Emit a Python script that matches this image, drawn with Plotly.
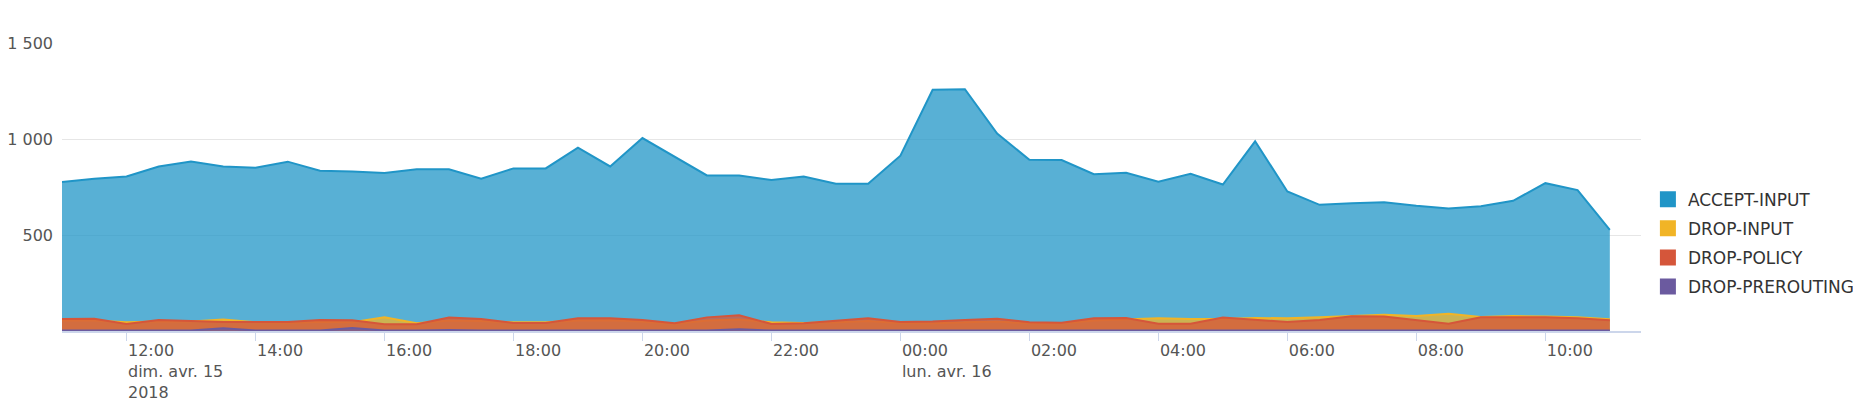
import plotly.graph_objects as go
import pandas as pd

times = pd.date_range("2018-04-15 11:00", periods=49, freq="30min")

accept_input = [776, 793, 805, 857, 883, 857, 850, 882, 835, 831, 823, 842, 842,
                793, 847, 847, 955, 857, 1005, 909, 810, 810, 786, 805, 767, 767,
                913, 1256, 1259, 1028, 892, 890, 817, 824, 777, 819, 763, 988, 727,
                657, 666, 671, 652, 638, 650, 678, 770, 734, 527]
drop_input = [55, 55, 45, 50, 50, 60, 45, 42, 48, 45, 71, 40, 55,
              52, 45, 45, 55, 56, 50, 38, 55, 60, 45, 42, 45, 52,
              42, 40, 46, 50, 40, 40, 55, 60, 66, 63, 62, 68, 66,
              71, 77, 84, 78, 90, 73, 78, 75, 71, 61]
drop_policy = [63, 64, 37, 57, 52, 47, 47, 47, 57, 56, 35, 35, 70,
               63, 42, 42, 66, 66, 57, 40, 71, 82, 37, 40, 54, 66,
               47, 49, 57, 64, 45, 43, 66, 68, 38, 38, 70, 57, 47,
               57, 77, 75, 57, 38, 71, 71, 71, 66, 56]
drop_prerouting = [2, 2, 2, 2, 3, 14, 3, 2, 2, 16, 2, 2, 5,
                   2, 2, 2, 2, 2, 2, 2, 2, 9, 2, 2, 2, 2,
                   2, 2, 2, 2, 2, 2, 2, 2, 2, 2, 2, 2, 2,
                   2, 2, 2, 2, 4, 2, 2, 2, 2, 2]

series_names = ["ACCEPT-INPUT", "DROP-INPUT", "DROP-POLICY", "DROP-PREROUTING"]
series_values = [accept_input, drop_input, drop_policy, drop_prerouting]
series_colors = [(32, 149, 199), (241, 180, 38), (213, 86, 58), (107, 90, 159)]

x_tick_vals = ["2018-04-15 12:00", "2018-04-15 14:00", "2018-04-15 16:00",
               "2018-04-15 18:00", "2018-04-15 20:00", "2018-04-15 22:00",
               "2018-04-16 00:00", "2018-04-16 02:00", "2018-04-16 04:00",
               "2018-04-16 06:00", "2018-04-16 08:00", "2018-04-16 10:00"]
x_tick_text = ["12:00<br>dim. avr. 15<br>2018", "14:00", "16:00", "18:00", "20:00",
               "22:00", "00:00<br>lun. avr. 16", "02:00", "04:00", "06:00",
               "08:00", "10:00"]
y_tick_vals = [500, 1000, 1500]
y_tick_text = ["500", "1 000", "1 500"]

FONT = "DejaVu Sans"

fig = go.Figure()
for name, vals, (r, g, b) in zip(series_names, series_values, series_colors):
    fig.add_trace(go.Scatter(
        x=times, y=vals, name=name, mode="lines",
        line=dict(color=f"rgb({r},{g},{b})", width=2),
        fill="tozeroy", fillcolor=f"rgba({r},{g},{b},0.75)",
        showlegend=False, legendgroup=name,
    ))
# legend entries (square swatches like the original)
for name, (r, g, b) in zip(series_names, series_colors):
    fig.add_trace(go.Scatter(
        x=[None], y=[None], name=name, mode="markers",
        marker=dict(symbol="square", size=16, color=f"rgb({r},{g},{b})"),
        showlegend=True, legendgroup=name,
    ))

# the page body adds an 8px margin; compensate so the plot lands where the original does
fig.update_layout(
    width=1853, height=402,
    margin=dict(l=54, r=220, t=35, b=79),
    paper_bgcolor="white", plot_bgcolor="white",
    font=dict(family=FONT, size=16, color="#555555"),
    showlegend=True,
    legend=dict(
        xref="container", yref="container",
        x=0.885, xanchor="left", y=0.415, yanchor="middle",
        font=dict(family=FONT, size=17, color="#333333"),
        tracegroupgap=4, bgcolor="rgba(0,0,0,0)",
        itemsizing="trace",
    ),
    xaxis=dict(
        type="date", automargin=False,
        range=["2018-04-15 11:00", "2018-04-16 11:29"],
        tickvals=x_tick_vals, ticktext=x_tick_text,
        ticklabelposition="outside right",
        ticks="outside", ticklen=8, tickcolor="#ccd6eb", tickwidth=1,
        ticklabelstandoff=4,
        showline=True, linecolor="#ccd6eb", linewidth=2,
        showgrid=False, zeroline=False,
        tickfont=dict(family=FONT, size=16, color="#555555"),
    ),
    yaxis=dict(
        range=[0, 1500], automargin=False,
        tickvals=y_tick_vals, ticktext=y_tick_text,
        showgrid=True, gridcolor="#e6e6e6", gridwidth=1,
        zeroline=False, showline=False, ticks="",
        ticklabelstandoff=8,
        tickfont=dict(family=FONT, size=16, color="#555555"),
    ),
)

fig.write_html("out.html")
